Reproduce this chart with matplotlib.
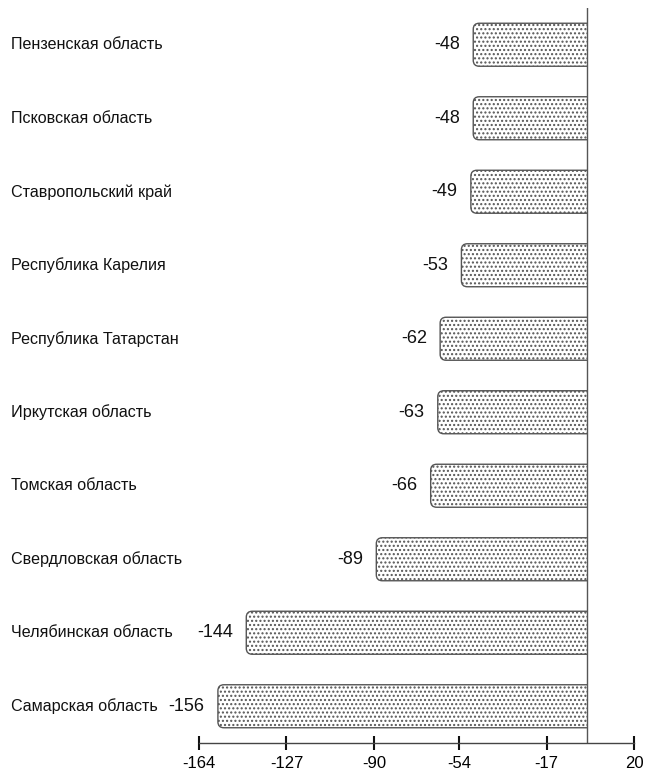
import matplotlib.pyplot as plt
from matplotlib.patches import FancyBboxPatch, Rectangle

# regions and their values
regions = ["Пензенская область", "Псковская область", "Ставропольский край",
           "Республика Карелия", "Республика Татарстан", "Иркутская область",
           "Томская область", "Свердловская область", "Челябинская область",
           "Самарская область"]
values = [-48, -48, -49, -53, -62, -63, -66, -89, -144, -156]
ticks = [-164, -127, -90, -54, -17, 20]

plt.rcParams['font.family'] = ['Liberation Sans', 'DejaVu Sans']
plt.rcParams['hatch.linewidth'] = 1.0
plt.rcParams['hatch.color'] = '#3a3a3a'

W, H = 645, 774
fig = plt.figure(figsize=(W / 100, H / 100), dpi=100)
ax = fig.add_axes([199 / W, (H - 743) / H, (634 - 199) / W, (743 - 8) / H])

ax.set_xlim(-164, 20)
ax.set_ylim(len(regions) - 0.5, -0.5)

bar_h = 0.585
x_per_px = 184 / 435
y_per_px = 10 / 735
r = 6 * x_per_px

# keep the right side of each bar square against the zero line
clip = Rectangle((-200, -1), 200, len(regions) + 2, transform=ax.transData)

for i, v in enumerate(values):
    box = FancyBboxPatch((v, i - bar_h / 2), -v + 2 * r, bar_h,
                         boxstyle=f"round,pad=0,rounding_size={r}",
                         mutation_aspect=y_per_px / x_per_px,
                         facecolor="white", edgecolor="#555555",
                         hatch="....", linewidth=1.0)
    ax.add_patch(box)
    box.set_clip_path(clip)
    ax.annotate(str(v), xy=(v, i), xytext=(-9.5, 0), textcoords="offset points",
                ha="right", va="center", fontsize=13, color="#111111")
    ax.annotate(regions[i], xy=(0, i), xycoords=("figure fraction", "data"),
                xytext=(11, 0), textcoords="offset pixels",
                ha="left", va="center", fontsize=11.6, color="#111111")

# zero line
ax.axvline(0, color="#555555", linewidth=1.0, ymin=0, ymax=1)

for s in ["left", "right", "top"]:
    ax.spines[s].set_visible(False)
ax.spines["bottom"].set_color("#444444")
ax.spines["bottom"].set_linewidth(1.0)

ax.set_yticks([])
ax.set_xticks(ticks)
ax.set_xticklabels([str(t) for t in ticks], fontsize=12)
ax.tick_params(axis="x", direction="inout", length=10, width=1.5,
               color="#111111", pad=4)

fig.savefig("out.png", dpi=100)
